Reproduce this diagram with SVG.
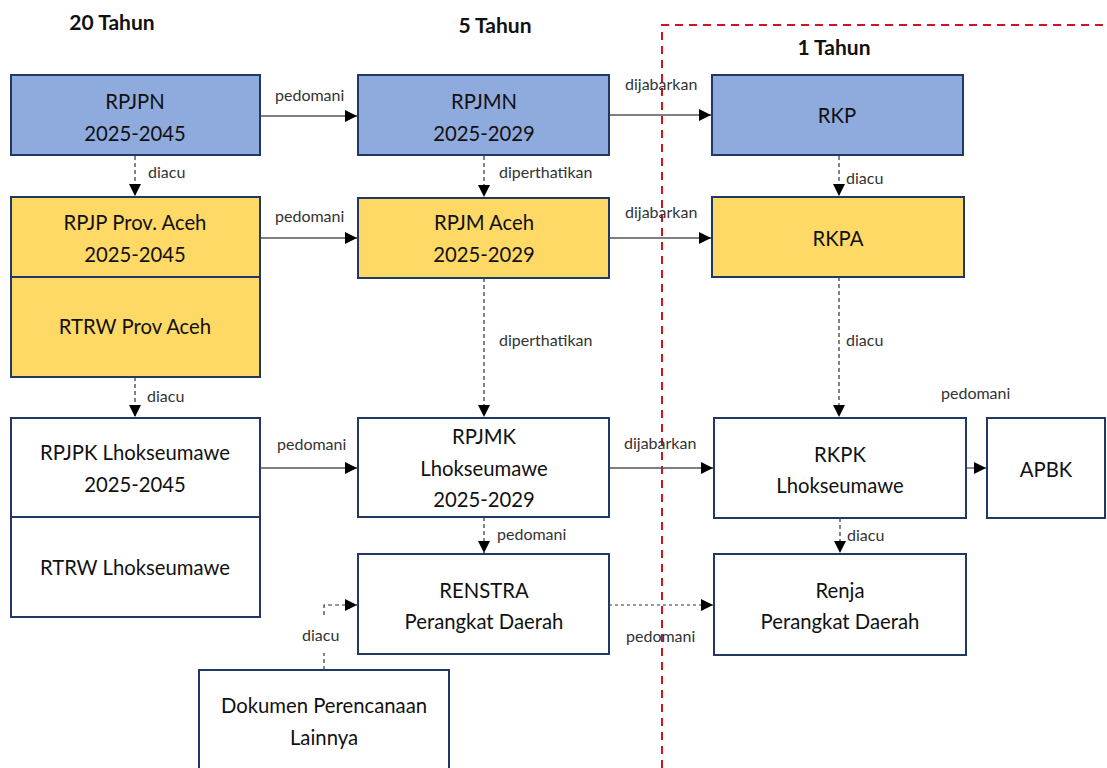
<svg xmlns="http://www.w3.org/2000/svg" width="1107" height="768" viewBox="0 0 1107 768">
<defs>
<style>
.box{stroke:#1F3864;stroke-width:2}
.blue{fill:#8FAADC}
.yel{fill:#FFD966}
.wht{fill:#FFFFFF}
.t{font-family:Lato,"Open Sans","Liberation Sans",sans-serif;font-size:20.3px;fill:#111;text-anchor:middle}
.h{font-family:Lato,"Open Sans","Liberation Sans",sans-serif;font-size:21px;font-weight:bold;fill:#111;text-anchor:middle}
.l{font-family:Lato,"Open Sans","Liberation Sans",sans-serif;font-size:16px;fill:#333}
.solid{stroke:#555;stroke-width:1.3;fill:none}
.dash{stroke:#333;stroke-width:1.2;stroke-dasharray:4 3;fill:none}
.dot{stroke:#777;stroke-width:1.5;stroke-dasharray:3 3;fill:none}
</style>
<marker id="ah" viewBox="0 0 10 10" refX="10" refY="5" markerWidth="12" markerHeight="12" markerUnits="userSpaceOnUse" orient="auto">
<path d="M0,0 L10,5 L0,10 z" fill="#000"/>
</marker>
</defs>
<rect width="1107" height="768" fill="#fff"/>

<g id="titles">
<text class="h" x="112" y="30">20 Tahun</text>
<text class="h" x="495" y="33">5 Tahun</text>
<text class="h" x="834" y="55">1 Tahun</text>
</g>

<g id="boundary">
<path d="M662,768 V25 H1107" fill="none" stroke="#D0141C" stroke-width="2" stroke-dasharray="8 6"/>
</g>

<g id="connectors">
<path class="solid" d="M260,116 H357" marker-end="url(#ah)"/>
<text class="l" x="275" y="101">pedomani</text>
<path class="solid" d="M260,238 H357" marker-end="url(#ah)"/>
<text class="l" x="275" y="222">pedomani</text>
<path class="solid" d="M609,115 H711" marker-end="url(#ah)"/>
<text class="l" x="625" y="90">dijabarkan</text>
<path class="solid" d="M609,238 H711" marker-end="url(#ah)"/>
<text class="l" x="625" y="218">dijabarkan</text>
<path class="solid" d="M260,468 H357" marker-end="url(#ah)"/>
<text class="l" x="277" y="450">pedomani</text>
<path class="solid" d="M609,468 H713" marker-end="url(#ah)"/>
<text class="l" x="624" y="449">dijabarkan</text>
<path class="solid" d="M966,468 H986" marker-end="url(#ah)"/>
<text class="l" x="941" y="399">pedomani</text>

<path class="dash" d="M135,156 V196" marker-end="url(#ah)"/>
<text class="l" x="148" y="178">diacu</text>
<path class="dash" d="M484,156 V197" marker-end="url(#ah)"/>
<text class="l" x="499" y="178">diperthatikan</text>
<path class="dash" d="M839,156 V196" marker-end="url(#ah)"/>
<text class="l" x="846" y="184">diacu</text>

<path class="dash" d="M135,377 V417" marker-end="url(#ah)"/>
<text class="l" x="147" y="402">diacu</text>
<path class="dash" d="M484,278 V417" marker-end="url(#ah)"/>
<text class="l" x="499" y="346">diperthatikan</text>
<path class="dash" d="M839,277 V417" marker-end="url(#ah)"/>
<text class="l" x="846" y="346">diacu</text>

<path class="dash" d="M484,517 V553" marker-end="url(#ah)"/>
<text class="l" x="497" y="540">pedomani</text>
<path class="dash" d="M840,518 V553" marker-end="url(#ah)"/>
<text class="l" x="847" y="541">diacu</text>

<path class="dot" d="M609,605 H713" marker-end="url(#ah)"/>
<text class="l" x="626" y="642">pedomani</text>

<path class="dash" d="M324,670 V653 M324,615 V605 H357" marker-end="url(#ah)"/>
<text class="l" x="302" y="641">diacu</text>
</g>

<g id="n-rpjpn">
<rect class="box blue" x="11" y="75" width="249" height="80"/>
<text class="t" x="135" y="109">RPJPN</text>
<text class="t" x="135" y="141">2025-2045</text>
</g>
<g id="n-rpjp-aceh">
<rect class="box yel" x="11" y="197" width="249" height="80"/>
<text class="t" x="135" y="230">RPJP Prov. Aceh</text>
<text class="t" x="135" y="262">2025-2045</text>
</g>
<g id="n-rtrw-aceh">
<rect class="box yel" x="11" y="277" width="249" height="100"/>
<text class="t" x="135" y="334">RTRW Prov Aceh</text>
</g>
<g id="n-rpjmn">
<rect class="box blue" x="358" y="75" width="251" height="80"/>
<text class="t" x="484" y="109">RPJMN</text>
<text class="t" x="484" y="141">2025-2029</text>
</g>
<g id="n-rpjm-aceh">
<rect class="box yel" x="358" y="198" width="251" height="80"/>
<text class="t" x="484" y="230">RPJM Aceh</text>
<text class="t" x="484" y="262">2025-2029</text>
</g>
<g id="n-rkp">
<rect class="box blue" x="712" y="75" width="251" height="80"/>
<text class="t" x="837" y="123">RKP</text>
</g>
<g id="n-rkpa">
<rect class="box yel" x="712" y="197" width="252" height="80"/>
<text class="t" x="838" y="246">RKPA</text>
</g>
<g id="n-rpjpk">
<rect class="box wht" x="11" y="418" width="249" height="99"/>
<text class="t" x="135" y="460">RPJPK Lhokseumawe</text>
<text class="t" x="135" y="492">2025-2045</text>
</g>
<g id="n-rtrw-lhok">
<rect class="box wht" x="11" y="517" width="249" height="100"/>
<text class="t" x="135" y="575">RTRW Lhokseumawe</text>
</g>
<g id="n-rpjmk">
<rect class="box wht" x="358" y="418" width="251" height="99"/>
<text class="t" x="484" y="444">RPJMK</text>
<text class="t" x="484" y="476">Lhokseumawe</text>
<text class="t" x="484" y="507">2025-2029</text>
</g>
<g id="n-renstra">
<rect class="box wht" x="358" y="554" width="251" height="100"/>
<text class="t" x="484" y="598">RENSTRA</text>
<text class="t" x="484" y="629">Perangkat Daerah</text>
</g>
<g id="n-rkpk">
<rect class="box wht" x="714" y="418" width="252" height="100"/>
<text class="t" x="840" y="462">RKPK</text>
<text class="t" x="840" y="493">Lhokseumawe</text>
</g>
<g id="n-apbk">
<rect class="box wht" x="987" y="418" width="118" height="100"/>
<text class="t" x="1046" y="477">APBK</text>
</g>
<g id="n-renja">
<rect class="box wht" x="714" y="554" width="252" height="101"/>
<text class="t" x="840" y="598">Renja</text>
<text class="t" x="840" y="629">Perangkat Daerah</text>
</g>
<g id="n-dokumen">
<rect class="box wht" x="199" y="670" width="250" height="110"/>
<text class="t" x="324" y="713">Dokumen Perencanaan</text>
<text class="t" x="324" y="745">Lainnya</text>
</g>
</svg>
